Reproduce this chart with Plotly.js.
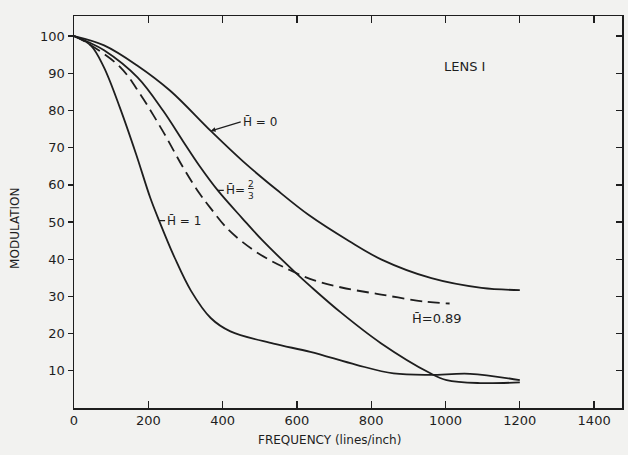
<!DOCTYPE html>
<html>
<head>
<meta charset="utf-8">
<script src="https://cdn.plot.ly/plotly-3.0.1.min.js"></script>
<style>html,body{margin:0;padding:0;background:#f2f2f0;}#chart{width:628px;height:455px;}</style>
</head>
<body>
<div id="chart"></div>
<script>
// Frequency (lines/inch) and modulation (%)
const freqH0 = [0, 81, 170, 259, 368, 455, 544, 633, 740, 828, 962, 1097, 1200];
const modH0  = [100, 97.5, 92.1, 85.3, 74.5, 66.3, 58.8, 51.8, 44.9, 39.9, 34.9, 32.3, 31.7];

const freqH23 = [0, 38, 81, 171, 240, 293, 337, 387, 453, 506, 594, 639, 718, 825, 958, 1003, 1093, 1200];
const modH23  = [100, 98.4, 96.2, 88.9, 79.9, 71.8, 65.2, 58.5, 51.0, 45.2, 36.6, 32.5, 25.7, 17.5, 9.4, 7.5, 6.7, 6.9];

const freqH1 = [0, 45, 80, 123, 167, 205, 229, 271, 315, 368, 421, 537, 636, 760, 860, 958, 1066, 1200];
const modH1  = [100, 97.5, 91.7, 80.9, 68.3, 56.6, 50.4, 40.4, 31.5, 24.2, 20.6, 17.3, 15.1, 11.6, 9.3, 8.9, 9.2, 7.5];

const freqH089 = [0, 38, 125, 178, 241, 293, 337, 367, 416, 478, 521, 568, 635, 720, 827, 944, 1011];
const modH089  = [100, 98.0, 91.6, 84.4, 74.1, 64.8, 57.8, 53.8, 47.9, 42.8, 40.1, 37.7, 34.7, 32.4, 30.5, 28.6, 28.1];

const xTicks = [0, 200, 400, 600, 800, 1000, 1200, 1400];
const xTickLabels = ['0', '200', '400', '600', '800', '1000', '1200', '1400'];
const yTicks = [10, 20, 30, 40, 50, 60, 70, 80, 90, 100];
const yTickLabels = ['10', '20', '30', '40', '50', '60', '70', '80', '90', '100'];

const ink = '#1e1e1e';
const FONT = 'DejaVu Sans, Liberation Sans, sans-serif';

function curve(x, y, dash) {
  return {
    x: x, y: y, type: 'scatter', mode: 'lines',
    line: {color: ink, width: 1.8, shape: 'spline', smoothing: 1, dash: dash || 'solid'},
    hoverinfo: 'skip', showlegend: false
  };
}

const traces = [
  curve(freqH0, modH0),
  curve(freqH23, modH23),
  curve(freqH1, modH1),
  curve(freqH089, modH089, '12px,6px'),
  // invisible trace to activate secondary axes (mirrored frame ticks)
  {x: [0], y: [0], xaxis: 'x2', yaxis: 'y2', mode: 'markers', marker: {opacity: 0}, hoverinfo: 'skip', showlegend: false}
];

const X_RANGE = [0, 1475];
const Y_RANGE = [0, 105.4];

const layout = {
  width: 628, height: 455,
  margin: {l: 74, r: 6, t: 16, b: 47},
  paper_bgcolor: '#f2f2f0',
  plot_bgcolor: '#f2f2f0',
  font: {family: FONT, color: ink, size: 13},
  showlegend: false,
  xaxis: {
    range: X_RANGE, tickvals: xTicks, ticktext: xTickLabels,
    ticks: 'inside', ticklen: 7, tickwidth: 1.3, tickcolor: ink,
    showline: true, linecolor: ink, linewidth: 1.5, mirror: true,
    showgrid: false, zeroline: false,
    tickfont: {size: 13, family: FONT, color: ink}
  },
  yaxis: {
    range: Y_RANGE, tickvals: yTicks, ticktext: yTickLabels,
    ticks: 'outside', ticklen: 5, tickwidth: 1.3, tickcolor: ink,
    showline: true, linecolor: ink, linewidth: 1.5, mirror: true,
    showgrid: false, zeroline: false,
    tickfont: {size: 13, family: FONT, color: ink}
  },
  xaxis2: {
    range: X_RANGE, overlaying: 'x', side: 'top', tickvals: xTicks,
    ticks: 'inside', ticklen: 7, tickwidth: 1.3, tickcolor: ink,
    showticklabels: false, showgrid: false, zeroline: false, showline: false
  },
  yaxis2: {
    range: Y_RANGE, overlaying: 'y', side: 'right', tickvals: yTicks,
    ticks: 'inside', ticklen: 6, tickwidth: 1.3, tickcolor: ink,
    showticklabels: false, showgrid: false, zeroline: false, showline: false
  },
  annotations: [
    {xref: 'paper', yref: 'paper', x: -0.108, y: 0.459, text: 'MODULATION', textangle: -90,
     showarrow: false, font: {size: 12, family: FONT, color: ink}, xanchor: 'center', yanchor: 'middle'},
    {xref: 'paper', yref: 'paper', x: 0.467, y: -0.082, text: 'FREQUENCY (lines/inch)',
     showarrow: false, font: {size: 12, family: FONT, color: ink}, xanchor: 'center', yanchor: 'middle'},
    {xref: 'x', yref: 'y', x: 1050, y: 91.7, text: 'LENS I', showarrow: false,
     font: {size: 13, family: FONT, color: ink}},
    {xref: 'x', yref: 'y', x: 368, y: 74.5, text: 'H\u0304 = 0', showarrow: true,
     arrowhead: 2, arrowsize: 0.8, arrowwidth: 1.2, arrowcolor: ink, ax: 30, ay: -9,
     xanchor: 'left', font: {size: 12, family: FONT, color: ink}},
    {xref: 'x', yref: 'y', x: 387, y: 58.5, text: 'H\u0304=', showarrow: true,
     arrowhead: 0, arrowwidth: 1.2, arrowcolor: ink, ax: 6, ay: 0,
     xanchor: 'left', font: {size: 12, family: FONT, color: ink}},
    {xref: 'x', yref: 'y', x: 477, y: 58.7, text: '<u>2</u><br>3', showarrow: false,
     font: {size: 9, family: FONT, color: ink}},
    {xref: 'x', yref: 'y', x: 229, y: 50.4, text: 'H\u0304 = 1', showarrow: true,
     arrowhead: 0, arrowwidth: 1.2, arrowcolor: ink, ax: 6, ay: 0,
     xanchor: 'left', font: {size: 12, family: FONT, color: ink}},
    {xref: 'x', yref: 'y', x: 977, y: 24.2, text: 'H\u0304=0.89', showarrow: false,
     font: {size: 13, family: FONT, color: ink}}
  ]
};

Plotly.newPlot('chart', traces, layout, {displayModeBar: false, staticPlot: true});
</script>
</body>
</html>
